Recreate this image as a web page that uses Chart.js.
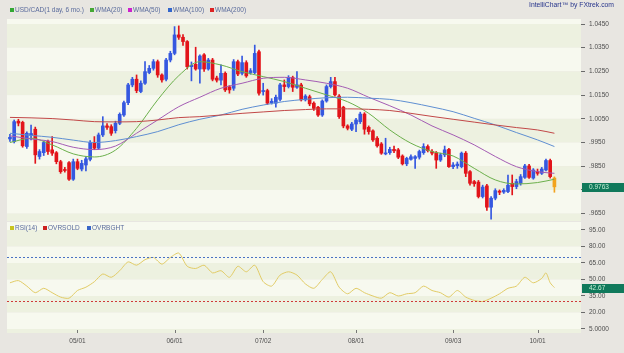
<!DOCTYPE html>
<html>
<head>
<meta charset="utf-8">
<script src="https://cdn.jsdelivr.net/npm/chart.js@4.4.1/dist/chart.umd.min.js"></script>
<style>
  html, body { margin:0; padding:0; width:624px; height:353px; overflow:hidden; background:#e8e6e1; font-family:"Liberation Sans", Arial, sans-serif; }
  canvas { position:absolute; left:0; }
  #main { top:0; }
  #rsi { top:213px; }
  .lg { position:absolute; font-size:6.5px; line-height:8px; color:#5a6b9c; white-space:nowrap; z-index:5; }
  .sq { position:absolute; width:4px; height:4px; z-index:5; }
  #brand { position:absolute; left:529px; top:1px; font-size:6.8px; line-height:8px; color:#27358c; white-space:nowrap; z-index:5; }
</style>
</head>
<body>
<canvas id="main" width="624" height="230"></canvas>
<canvas id="rsi" width="624" height="140"></canvas>
<div id="brand">IntelliChart™ by FXtrek.com</div>
<script>
// ---------------- data ----------------
const tickDates   = ['05/01','06/01','07/02','08/01','09/03','10/01'];
const tickDateIdx = [16, 39, 60, 82, 105, 125];

const priceTickValues = [0.965, 0.975, 0.985, 0.995, 1.005, 1.015, 1.025, 1.035, 1.045];
const priceTickLabels = ['.9650','.9750','.9850','.9950','1.0050','1.0150','1.0250','1.0350','1.0450'];
const rsiTickValues = [5, 20, 35, 50, 65, 80, 95];
const rsiTickLabels = ['5.0000','20.00','35.00','50.00','65.00','80.00','95.00'];

const candleOpen = [
 .9965,.9954,1.0040,1.0035,.9933,.9980,1.0006,.9891,.9907,.9954,
 .9919,.9907,.9869,.9836,.9865,.9795,.9869,.9838,.9855,.9879,
 .9947,.9926,.9982,1.0020,1.0017,1.0000,1.0031,1.0066,1.0118,1.0193,
 1.0217,1.0165,1.0200,1.0245,1.0263,1.0291,1.0235,1.0217,1.0298,1.0326,
 1.0404,1.0394,1.0376,1.0270,1.0280,1.0260,1.0320,1.0260,1.0298,1.0222,
 1.0213,1.0242,1.0185,1.0179,1.0291,1.0242,1.0287,1.0245,1.0245,1.0333,
 1.0165,1.0169,1.0118,1.0116,1.0132,1.0193,1.0186,1.0224,1.0183,1.0193,
 1.0130,1.0143,1.0116,1.0099,1.0066,1.0125,1.0186,1.0207,1.0146,1.0099,
 1.0020,1.0006,1.0028,1.0038,1.0070,1.0014,.9999,.9968,.9944,.9902,
 .9907,.9921,.9919,.9893,.9860,.9879,.9883,.9888,.9907,.9933,
 .9912,.9907,.9876,.9898,.9921,.9848,.9852,.9848,.9905,.9827,
 .9785,.9783,.9722,.9767,.9677,.9715,.9745,.9741,.9743,.9778,
 .9764,.9778,.9803,.9851,.9800,.9827,.9820,.9834,.9874,.9800];
const candleHigh = [
 .9985,1.0045,1.0048,1.0040,.9995,1.0023,1.0015,.9920,.9955,.9960,
 .9975,.9912,.9875,.9845,.9870,.9880,.9880,.9875,.9890,.9958,
 .9975,.9990,1.0059,1.0030,1.0025,1.0040,1.0075,1.0125,1.0200,1.0225,
 1.0235,1.0210,1.0291,1.0275,1.0300,1.0298,1.0240,1.0305,1.0335,1.0439,
 1.0442,1.0405,1.0380,1.0290,1.0352,1.0320,1.0325,1.0305,1.0305,1.0230,
 1.0278,1.0248,1.0190,1.0300,1.0298,1.0315,1.0295,1.0262,1.0361,1.0340,
 1.0200,1.0175,1.0135,1.0150,1.0200,1.0214,1.0232,1.0230,1.0249,1.0200,
 1.0152,1.0150,1.0122,1.0103,1.0130,1.0193,1.0225,1.0225,1.0152,1.0103,
 1.0025,1.0035,1.0052,1.0078,1.0076,1.0020,1.0003,.9975,.9950,.9968,
 .9930,.9935,.9925,.9898,.9888,.9898,.9895,.9918,.9945,.9940,
 .9920,.9912,.9905,.9935,.9925,.9865,.9868,.9910,.9912,.9832,
 .9790,.9790,.9770,.9773,.9722,.9755,.9750,.9755,.9813,.9813,
 .9795,.9815,.9858,.9858,.9840,.9838,.9845,.9880,.9880,.9805];
const candleLow = [
 .9955,.9948,1.0020,.9930,.9925,.9961,.9862,.9880,.9895,.9900,
 .9895,.9860,.9820,.9825,.9790,.9790,.9835,.9830,.9830,.9872,
 .9920,.9920,.9975,1.0005,.9980,.9990,1.0025,1.0060,1.0110,1.0185,
 1.0160,1.0160,1.0195,1.0240,1.0255,1.0225,1.0205,1.0210,1.0290,1.0320,
 1.0385,1.0360,1.0260,1.0210,1.0255,1.0200,1.0250,1.0255,1.0210,1.0205,
 1.0193,1.0165,1.0158,1.0170,1.0232,1.0235,1.0225,1.0238,1.0240,1.0150,
 1.0150,1.0110,1.0112,1.0099,1.0125,1.0165,1.0180,1.0165,1.0178,1.0125,
 1.0125,1.0105,1.0085,1.0060,1.0060,1.0120,1.0180,1.0145,1.0052,1.0012,
 1.0003,1.0000,.9996,1.0030,.9985,.9985,.9955,.9930,.9900,.9898,
 .9900,.9907,.9882,.9855,.9852,.9875,.9841,.9880,.9900,.9910,
 .9898,.9841,.9870,.9890,.9845,.9840,.9841,.9843,.9806,.9770,
 .9765,.9716,.9716,.9663,.9627,.9708,.9730,.9735,.9738,.9729,
 .9755,.9770,.9798,.9798,.9795,.9812,.9815,.9830,.9800,.9740];
const candleClose = [
 .9972,1.0038,1.0032,.9936,.9989,.9988,.9898,.9912,.9950,.9912,
 .9905,.9869,.9827,.9832,.9795,.9869,.9841,.9862,.9881,.9950,
 .9926,.9982,1.0020,1.0014,.9989,1.0031,1.0069,1.0118,1.0193,1.0217,
 1.0169,1.0200,1.0249,1.0263,1.0291,1.0235,1.0214,1.0298,1.0326,1.0404,
 1.0394,1.0376,1.0270,1.0276,1.0260,1.0315,1.0260,1.0298,1.0217,1.0213,
 1.0242,1.0172,1.0172,1.0291,1.0239,1.0287,1.0231,1.0253,1.0326,1.0158,
 1.0168,1.0116,1.0124,1.0141,1.0193,1.0186,1.0224,1.0183,1.0193,1.0130,
 1.0146,1.0113,1.0094,1.0066,1.0125,1.0186,1.0207,1.0151,1.0059,1.0020,
 1.0010,1.0028,1.0045,1.0070,1.0006,.9996,.9961,.9936,.9905,.9906,
 .9921,.9915,.9888,.9860,.9883,.9890,.9890,.9912,.9933,.9916,
 .9905,.9876,.9898,.9919,.9848,.9855,.9859,.9905,.9820,.9778,
 .9776,.9722,.9762,.9677,.9715,.9747,.9740,.9748,.9770,.9764,
 .9785,.9806,.9851,.9803,.9834,.9820,.9838,.9874,.9806,.9763];

const wmaIdx = [0,5,10,15,20,25,30,35,40,45,50,55,60,65,70,75,80,85,90,95,100,105,110,115,120,125,129];
const wma20  = [.9950,.9968,.9940,.9902,.9889,.9918,1.0010,1.0130,1.0232,1.0291,1.0277,1.0249,1.0228,1.0207,1.0179,1.0151,1.0122,1.0073,1.0003,.9947,.9912,.9893,.9841,.9792,.9775,.9781,.9795];
const wma50  = [.9978,.9965,.9954,.9930,.9920,.9935,.9989,1.0045,1.0101,1.0141,1.0179,1.0200,1.0221,1.0225,1.0214,1.0200,1.0179,1.0141,1.0105,1.0066,1.0020,.9982,.9940,.9891,.9848,.9827,.9820];
const wma100 = [.9989,.9980,.9972,.9960,.9950,.9958,.9975,.9996,1.0025,1.0048,1.0066,1.0090,1.0108,1.0123,1.0132,1.0139,1.0141,1.0137,1.0132,1.0118,1.0100,1.0080,1.0052,1.0024,.9992,.9961,.9933];
const wma200 = [1.0056,1.0054,1.0051,1.0045,1.0038,1.0037,1.0038,1.0045,1.0055,1.0059,1.0066,1.0073,1.0079,1.0085,1.0089,1.0092,1.0092,1.0090,1.0085,1.0073,1.0060,1.0048,1.0036,1.0024,1.0013,1.0003,.9989];

const rsiIdx = [0,2,4,6,8,10,12,14,16,18,20,22,24,26,28,30,32,34,36,38,40,42,44,46,48,50,52,54,56,58,60,62,64,66,68,70,72,74,76,78,80,82,84,86,88,90,92,94,96,98,100,102,104,106,108,110,112,114,116,118,120,122,124,126,127,128,129];
const rsiValues = [47,49,44,38,42,38,34,33,40,43, 48,55,52,58,66,63,68,70,64,70,
                   74,62,60,63,56,58,52,62,57,63, 48,44,54,57,54,46,42,50,57,43,
                   37,42,38,35,33,38,35,37,38,44, 40,38,34,40,34,31,30,33,37,42,
                   44,52,47,51,56,47,42.67];
const rsiOverbought = 70;
const rsiOversold = 30;

const legendNames  = ['USD/CAD(1 day, 6 mo.)','WMA(20)','WMA(50)','WMA(100)','WMA(200)'];
const rsiLegendNames = ['RSI(14)','OVRSOLD','OVRBGHT'];

// ---------------- style ----------------
const FAMILY = '"Liberation Sans", Arial, sans-serif';
const FONT = {family: FAMILY, size: 6.5};
const BLUE = '#3558e0', RED = '#e2141a', ORANGE = '#f2a31e';
const C20 = '#6cb04c', C50 = '#a45cb4', C100 = '#5f8fd2', C200 = '#c24848';
const LIGHT = '#f7f9ef', DARK = '#edf1e0';
const XMIN = -0.7, XMAX = 135.3;

// legends (HTML text)
const legendColors = ['#33a833','#44a833','#cc22cc','#3366cc','#dd2222'];
const legendX = [10, 90, 128, 168, 210];
const rsiLegendColors = ['#c8c41e','#cc2020','#3a66c8'];
const rsiLegendX = [10, 43, 87];
function addLegend(names, colors, xs, cy) {
  names.forEach((n, k) => {
    const s = document.createElement('div');
    s.className = 'sq'; s.style.left = xs[k] + 'px'; s.style.top = (cy - 2) + 'px'; s.style.background = colors[k];
    document.body.appendChild(s);
    const t = document.createElement('div');
    t.className = 'lg'; t.style.left = (xs[k] + 5) + 'px'; t.style.top = (cy - 4) + 'px'; t.textContent = n;
    document.body.appendChild(t);
  });
}
addLegend(legendNames, legendColors, legendX, 10);
addLegend(rsiLegendNames, rsiLegendColors, rsiLegendX, 228);

const lastI = candleClose.length - 1;
const candleColors = candleClose.map((c, i) => i === lastI ? ORANGE : (c >= candleOpen[i] ? BLUE : RED));

const bandsPlugin = {
  id: 'bands',
  beforeDraw(chart) {
    const {ctx, chartArea: a, scales: {y}} = chart;
    const px = y.ticks.map(t => y.getPixelForValue(t.value)).sort((p, q) => p - q);
    const edges = [a.top, ...px, a.bottom];
    ctx.save();
    for (let k = 0; k < edges.length - 1; k++) {
      ctx.fillStyle = (k % 2 === 1) ? DARK : LIGHT;
      ctx.fillRect(a.left, edges[k], a.right - a.left, edges[k + 1] - edges[k]);
    }
    ctx.restore();
  }
};
function valueBox(value, text) {
  return {
    id: 'vbox',
    afterDraw(chart) {
      const {ctx, chartArea: a, scales: {y}} = chart;
      const py = Math.round(y.getPixelForValue(value));
      ctx.save();
      ctx.fillStyle = '#10795b';
      ctx.fillRect(a.right + 1, py - 4, chart.width - a.right - 1, 9);
      ctx.fillStyle = '#c5efd5';
      ctx.font = '6.5px ' + FAMILY;
      ctx.textBaseline = 'middle';
      ctx.fillText(text, a.right + 8, py + 0.5);
      ctx.restore();
    }
  };
}
const xTickMarks = {
  id: 'xmarks',
  afterDraw(chart) {
    const {ctx, chartArea: a, scales: {x}} = chart;
    ctx.save();
    ctx.strokeStyle = '#777'; ctx.lineWidth = 1;
    x.ticks.forEach(t => {
      const px = Math.round(x.getPixelForValue(t.value)) + 0.5;
      ctx.beginPath(); ctx.moveTo(px, a.bottom - 3); ctx.lineTo(px, a.bottom); ctx.stroke();
    });
    ctx.restore();
  }
};

function wmaLine(vals, color) {
  return {type: 'line', data: wmaIdx.map((x, k) => ({x, y: vals[k]})), borderColor: color, borderWidth: 1,
          pointRadius: 0, cubicInterpolationMode: 'monotone', fill: false, order: 0};
}

new Chart(document.getElementById('main'), {
  type: 'bar',
  data: {
    datasets: [
      {type: 'bar', data: candleClose.map((c, i) => ({x: i, y: [candleLow[i], candleHigh[i]]})),
       backgroundColor: candleColors, barThickness: 1, grouped: false, order: 3},
      {type: 'bar', data: candleClose.map((c, i) => ({x: i, y: [candleOpen[i], c]})),
       backgroundColor: candleColors, barThickness: 3, minBarLength: 1, grouped: false, order: 2},
      wmaLine(wma200, C200), wmaLine(wma100, C100), wmaLine(wma50, C50), wmaLine(wma20, C20)
    ]
  },
  options: {
    responsive: false, animation: false, events: [],
    layout: {padding: {left: 7, right: 0, top: 19, bottom: 9}},
    plugins: {legend: {display: false}, tooltip: {enabled: false}},
    scales: {
      x: {type: 'linear', min: XMIN, max: XMAX, offset: false, display: false, grid: {offset: false}},
      y: {type: 'linear', position: 'right', min: 0.96188, max: 1.04711, beginAtZero: false,
          afterBuildTicks: s => { s.ticks = priceTickValues.map(v => ({value: v})); },
          afterFit: s => { s.width = 43; },
          ticks: {font: FONT, color: '#4d4d4d', padding: 4, callback: (v, i) => priceTickLabels[i]},
          grid: {drawOnChartArea: false, tickLength: 4, tickColor: '#6a6a6a'},
          border: {display: false}}
    }
  },
  plugins: [bandsPlugin, valueBox(candleClose[lastI], candleClose[lastI].toFixed(4))]
});

new Chart(document.getElementById('rsi'), {
  type: 'line',
  data: {
    datasets: [
      {data: [{x: XMIN, y: rsiOverbought}, {x: XMAX, y: rsiOverbought}], borderColor: '#4a72c4', borderWidth: 1, borderDash: [2, 2], pointRadius: 0},
      {data: [{x: XMIN, y: rsiOversold}, {x: XMAX, y: rsiOversold}], borderColor: '#cf3a3a', borderWidth: 1, borderDash: [2, 2], pointRadius: 0},
      {data: rsiIdx.map((x, k) => ({x, y: rsiValues[k]})), borderColor: '#e2cc66', borderWidth: 1, pointRadius: 0, tension: 0.25}
    ]
  },
  options: {
    responsive: false, animation: false, events: [],
    layout: {padding: {left: 7, right: 0, top: 9, bottom: 0}},
    plugins: {legend: {display: false}, tooltip: {enabled: false}},
    scales: {
      x: {type: 'linear', min: XMIN, max: XMAX, offset: false, position: 'bottom',
          afterBuildTicks: s => { s.ticks = tickDateIdx.map(v => ({value: v})); },
          afterFit: s => { s.height = 20; },
          ticks: {font: FONT, color: '#4d4d4d', padding: 4, autoSkip: false, maxRotation: 0, callback: (v, i) => tickDates[i]},
          grid: {display: false, drawTicks: false}, border: {display: false}},
      y: {type: 'linear', position: 'right', min: 1.36, max: 102.27,
          afterBuildTicks: s => { s.ticks = rsiTickValues.map(v => ({value: v})); },
          afterFit: s => { s.width = 43; },
          ticks: {font: FONT, color: '#4d4d4d', padding: 4, callback: (v, i) => rsiTickLabels[i]},
          grid: {drawOnChartArea: false, tickLength: 4, tickColor: '#6a6a6a'},
          border: {display: false}}
    }
  },
  plugins: [bandsPlugin, xTickMarks, valueBox(rsiValues[rsiValues.length - 1], rsiValues[rsiValues.length - 1].toFixed(2))]
});
</script>
</body>
</html>
